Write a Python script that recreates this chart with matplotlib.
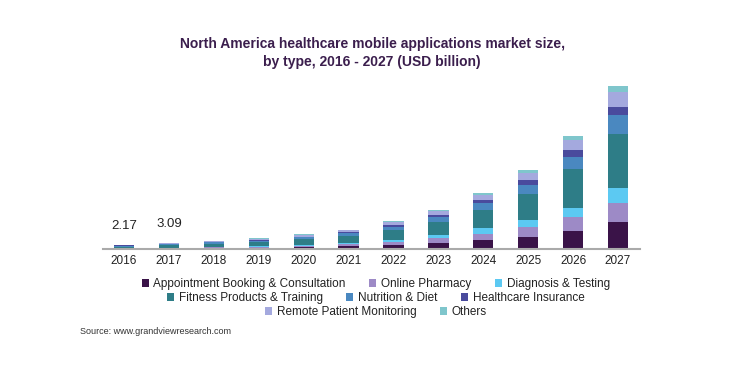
import matplotlib
matplotlib.use("Agg")
import matplotlib.pyplot as plt
from matplotlib.patches import Patch

plt.rcParams['font.family'] = ['Liberation Sans', 'DejaVu Sans']

# dados (USD bilhões)
years = ['2016', '2017', '2018', '2019', '2020', '2021', '2022', '2023', '2024', '2025', '2026', '2027']
appointment = [0.22, 0.35, 0.5, 0.7, 1.0, 1.4, 2.1, 3.1, 4.4, 5.9, 8.8, 13.0]
pharmacy = [0.13, 0.2, 0.3, 0.4, 0.6, 0.9, 1.3, 2.0, 3.0, 4.5, 6.4, 9.2]
diagnosis = [0.11, 0.17, 0.25, 0.35, 0.5, 0.7, 1.1, 1.7, 2.5, 3.6, 4.8, 7.2]
fitness = [0.72, 1.05, 1.4, 1.8, 2.5, 3.3, 4.5, 6.3, 8.9, 12.5, 18.5, 26.0]
nutrition = [0.45, 0.6, 0.7, 0.8, 1.0, 1.3, 1.7, 2.3, 3.2, 4.5, 5.9, 9.0]
insurance = [0.14, 0.2, 0.25, 0.3, 0.4, 0.6, 0.8, 1.1, 1.6, 2.3, 3.2, 3.9]
remote = [0.3, 0.4, 0.45, 0.55, 0.7, 0.9, 1.3, 1.8, 2.4, 3.4, 5.0, 7.6]
others = [0.1, 0.12, 0.15, 0.2, 0.3, 0.3, 0.5, 0.7, 1.0, 1.4, 2.0, 2.7]

names = ['Appointment Booking & Consultation', 'Online Pharmacy', 'Diagnosis & Testing',
         'Fitness Products & Training', 'Nutrition & Diet', 'Healthcare Insurance',
         'Remote Patient Monitoring', 'Others']
series = [appointment, pharmacy, diagnosis, fitness, nutrition, insurance, remote, others]
colors = ['#3a1348', '#9d8ac6', '#5cc9f2', '#2e7d87', '#4a88c0', '#4a4b9d', '#a4a9de', '#7fc6cc']

labels_top = {0: '2.17', 1: '3.09'}

fig = plt.figure(figsize=(7.44, 3.72), dpi=100)
ax = fig.add_axes([103 / 744, 1 - 249 / 372, (640 - 103) / 744, 169 / 372])

x = list(range(len(years)))
bottom = [0.0] * len(years)
for vals, col in zip(series, colors):
    ax.bar(x, vals, width=0.45, bottom=bottom, color=col, linewidth=0)
    bottom = [b + v for b, v in zip(bottom, vals)]

for i, txt in labels_top.items():
    ax.annotate(txt, (x[i], bottom[i]), xytext=(0, 9), textcoords='offset points',
                ha='center', va='bottom', fontsize=9.5, color='#222222')

ax.set_xlim(-0.47, 11.49)
ax.set_ylim(0, 81.5)
ax.set_xticks(x)
ax.set_xticklabels(years, fontsize=8.5, color='#222222')
ax.tick_params(axis='x', length=0, pad=4)
ax.set_yticks([])
for s in ['top', 'right', 'left']:
    ax.spines[s].set_visible(False)
ax.spines['bottom'].set_color('#aaaaaa')
ax.spines['bottom'].set_linewidth(1.5)

fig.text(0.5, 1 - 53 / 372, 'North America healthcare mobile applications market size,\nby type, 2016 - 2027 (USD billion)',
         ha='center', va='center', fontsize=10, fontweight='bold', color='#3b1e4d', linespacing=1.3)

# legenda em três linhas centralizadas
rows = [[0, 1, 2], [3, 4, 5], [6, 7]]
row_y = [284, 298, 312]
for idx, yy in zip(rows, row_y):
    handles = [Patch(facecolor=colors[k], edgecolor='none') for k in idx]
    leg = fig.legend(handles, [names[k] for k in idx], ncol=len(idx), loc='center',
                     bbox_to_anchor=(0.505, 1 - yy / 372), frameon=False, fontsize=8.5,
                     handlelength=0.6, handleheight=0.6, handletextpad=0.4, columnspacing=2.0,
                     borderpad=0, labelcolor='#222222')

fig.text(80 / 744, 1 - 331 / 372, 'Source: www.grandviewresearch.com', ha='left', va='center',
         fontsize=6.5, color='#333333')

fig.savefig('out.png', dpi=100)
